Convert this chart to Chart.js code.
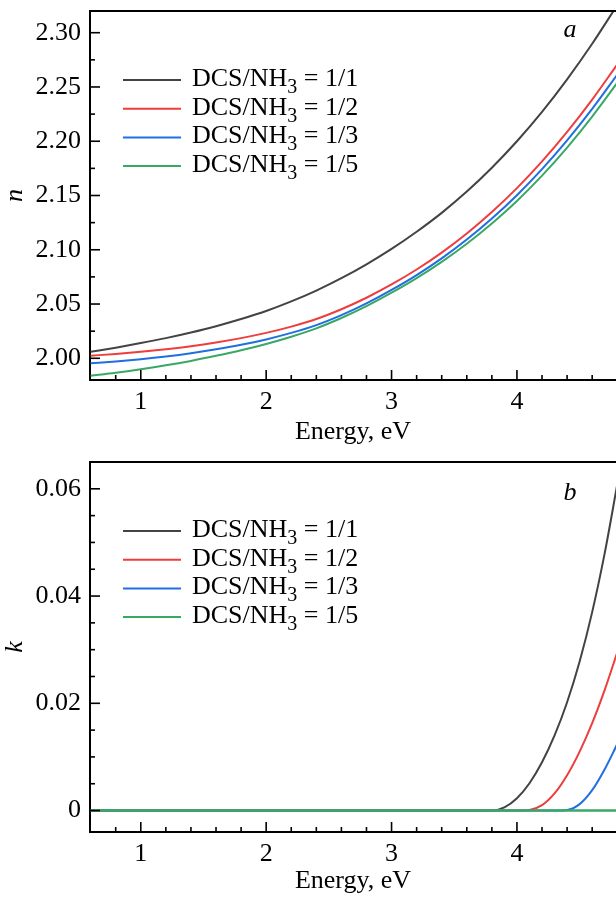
<!DOCTYPE html>
<html>
<head>
<meta charset="utf-8">
<script src="https://cdn.jsdelivr.net/npm/chart.js@4.4.1/dist/chart.umd.min.js"></script>
<style>
  body { margin: 0; background: #fff; }
  canvas { position: absolute; left: 0; }
</style>
</head>
<body>
<canvas id="nChart" width="616" height="448" style="top:0"></canvas>
<canvas id="kChart" width="616" height="449" style="top:448px"></canvas>
<script>
// series labels and colours
var ratios = ['1/1', '1/2', '1/3', '1/5'];
var colors = ['#434343', '#ef3d3d', '#1f6fe0', '#3aa865'];

// panel a: refractive index n vs energy (eV)
var energyN = [0.6, 0.8, 1.0, 1.2, 1.4, 1.6, 1.8, 2.0, 2.2, 2.4, 2.6, 2.8, 3.0, 3.2, 3.4, 3.6, 3.8, 4.0, 4.2, 4.4, 4.6, 4.8];
var n11 = [2.0060, 2.0098, 2.0140, 2.0186, 2.0238, 2.0296, 2.0362, 2.0436, 2.0524, 2.0624, 2.0738,
           2.0866, 2.1008, 2.1166, 2.1340, 2.1536, 2.1756, 2.2000, 2.2270, 2.2570, 2.2898, 2.3254];
var n12 = [2.0024, 2.0040, 2.0060, 2.0084, 2.0112, 2.0146, 2.0186, 2.0234, 2.0292, 2.0362, 2.0452,
           2.0558, 2.0680, 2.0818, 2.0974, 2.1150, 2.1348, 2.1568, 2.1814, 2.2086, 2.2384, 2.2708];
var n13 = [1.9954, 1.9971, 1.9992, 2.0017, 2.0047, 2.0083, 2.0124, 2.0174, 2.0234, 2.0306, 2.0398,
           2.0506, 2.0630, 2.0767, 2.0921, 2.1094, 2.1288, 2.1503, 2.1743, 2.2008, 2.2298, 2.2613];
var n15 = [1.9840, 1.9867, 1.9899, 1.9935, 1.9976, 2.0023, 2.0074, 2.0132, 2.0199, 2.0276, 2.0371,
           2.0480, 2.0604, 2.0739, 2.0889, 2.1056, 2.1243, 2.1450, 2.1683, 2.1942, 2.2227, 2.2538];

// panel b: extinction coefficient k vs energy (eV)
var energyK = [0.6, 1.0, 2.0, 3.0, 3.5, 3.7, 3.8, 3.9, 4.0, 4.1, 4.2, 4.3, 4.4, 4.5, 4.6, 4.7, 4.8];
var k11 = [0, 0, 0, 0, 0, 0, 0, 0.0006, 0.0023, 0.0051, 0.0090, 0.0140, 0.0202, 0.0278, 0.0370, 0.0480, 0.0608];
var k12 = [0, 0, 0, 0, 0, 0, 0, 0, 0, 0.0001, 0.0010, 0.0032, 0.0066, 0.0110, 0.0163, 0.0225, 0.0295];
var k13 = [0, 0, 0, 0, 0, 0, 0, 0, 0, 0, 0, 0, 0.0001, 0.0012, 0.0038, 0.0077, 0.0124];
var k15 = [0, 0, 0, 0, 0, 0, 0, 0, 0, 0, 0, 0, 0, 0, 0, 0, 0];

// tick labels
var xTicks = [1, 2, 3, 4];
var nTicks = [2.00, 2.05, 2.10, 2.15, 2.20, 2.25, 2.30];
var kTicks = [0, 0.02, 0.04, 0.06];

var FONT = '"Liberation Serif", "Times New Roman", serif';

function pts(xs, ys) {
  return xs.map(function (x, i) { return { x: x, y: ys[i] }; });
}

function makeSets(xs, series, widths) {
  return series.map(function (ys, i) {
    return {
      label: 'DCS/NH\u2083 = ' + ratios[i],
      data: pts(xs, ys),
      borderColor: colors[i],
      borderWidth: widths[i],
      pointRadius: 0,
      cubicInterpolationMode: 'monotone',
      order: 4 - i
    };
  });
}

function drawTicks(c, scale, a, step, horizontal) {
  var majors = scale.ticks.map(function (t) { return t.value; });
  var i0 = Math.ceil(scale.min / step - 1e-6), i1 = Math.floor(scale.max / step + 1e-6);
  for (var i = i0; i <= i1; i++) {
    var v = i * step;
    var major = majors.some(function (m) { return Math.abs(m - v) < step / 10; });
    var len = major ? 10 : 5;
    var p = scale.getPixelForValue(v);
    if (horizontal) {
      if (p <= a.left + 1 || p >= a.right - 1) continue;
      c.beginPath(); c.moveTo(p, a.bottom); c.lineTo(p, a.bottom - len); c.stroke();
    } else {
      if (p <= a.top + 1 || p >= a.bottom - 1) continue;
      c.beginPath(); c.moveTo(a.left, p); c.lineTo(a.left + len, p); c.stroke();
    }
  }
}

// frame on top, inward ticks, legend with subscript, panel letter
var decor = {
  id: 'decor',
  afterDatasetsDraw: function (chart, args, o) {
    var c = chart.ctx, a = chart.chartArea;
    c.save();
    chart.data.datasets.forEach(function (ds, i) {
      var y = a.top + o.legendTop + i * 28.7;
      c.strokeStyle = ds.borderColor;
      c.lineWidth = 2;
      c.beginPath(); c.moveTo(a.left + 33, y); c.lineTo(a.left + 91, y); c.stroke();
      var parts = ds.label.split('\u2083');
      var x = a.left + 102;
      c.fillStyle = '#000';
      c.textAlign = 'left';
      c.textBaseline = 'alphabetic';
      c.font = '26px ' + FONT;
      c.fillText(parts[0], x, y + 6);
      x += c.measureText(parts[0]).width;
      c.font = '20px ' + FONT;
      c.fillText('3', x, y + 13);
      x += c.measureText('3').width;
      c.font = '26px ' + FONT;
      c.fillText(parts[1], x, y + 6);
    });
    c.font = 'italic 26px ' + FONT;
    c.textAlign = 'center';
    c.fillText(o.letter, a.right - 46, a.top + o.letterDy);
    c.restore();
  },
  afterDraw: function (chart, args, o) {
    var c = chart.ctx, a = chart.chartArea;
    c.save();
    c.strokeStyle = '#000';
    c.lineWidth = 2;
    c.beginPath(); c.moveTo(a.left - 1, a.top); c.lineTo(a.right, a.top); c.stroke();
    c.lineWidth = 1.6;
    drawTicks(c, chart.scales.x, a, 0.2, true);
    drawTicks(c, chart.scales.y, a, o.yMinor, false);
    c.restore();
  }
};

function makeOptions(cfg) {
  return {
    responsive: false,
    animation: false,
    layout: { padding: { top: cfg.top, left: 0, right: 0, bottom: 0 } },
    plugins: {
      legend: { display: false },
      tooltip: { enabled: false },
      decor: { letter: cfg.letter, letterDy: cfg.letterDy, legendTop: 69, yMinor: cfg.yMinor }
    },
    scales: {
      x: {
        type: 'linear', min: 0.595, max: 4.79,
        afterBuildTicks: function (s) { s.ticks = xTicks.map(function (v) { return { value: v }; }); },
        afterFit: function (s) { s.height = cfg.xHeight; s.paddingLeft = 0; s.paddingRight = 0; },
        grid: { display: false, drawTicks: false },
        border: { display: true, color: '#000', width: 2 },
        ticks: { color: '#000', padding: 7, autoSkip: false, maxRotation: 0, font: { family: FONT, size: 26 } },
        title: { display: true, text: 'Energy, eV', color: '#000', padding: { top: 0, bottom: 0 }, font: { family: FONT, size: 26 } }
      },
      y: {
        type: 'linear', min: cfg.yMin, max: cfg.yMax,
        afterBuildTicks: function (s) { s.ticks = cfg.yTicks.map(function (v) { return { value: v }; }); },
        afterFit: function (s) { s.width = 90; s.paddingTop = 0; s.paddingBottom = 0; },
        grid: { display: false, drawTicks: false },
        border: { display: true, color: '#000', width: 2 },
        ticks: { color: '#000', padding: 9, autoSkip: false, font: { family: FONT, size: 26 }, callback: cfg.fmt },
        title: { display: true, text: cfg.yTitle, color: '#000', padding: { top: 0, bottom: 0 }, font: { family: FONT, size: 26, style: 'italic' } }
      }
    }
  };
}

new Chart(document.getElementById('nChart').getContext('2d'), {
  type: 'line',
  data: { datasets: makeSets(energyN, [n11, n12, n13, n15], [2, 2, 2, 2]) },
  options: makeOptions({
    top: 11, xHeight: 68, yMin: 1.98, yMax: 2.32, yTicks: nTicks, yMinor: 0.025,
    yTitle: 'n', letter: 'a', letterDy: 26,
    fmt: function (v) { return v.toFixed(2); }
  }),
  plugins: [decor]
});

new Chart(document.getElementById('kChart').getContext('2d'), {
  type: 'line',
  data: { datasets: makeSets(energyK, [k11, k12, k13, k15], [2, 2, 2, 2.4]) },
  options: makeOptions({
    top: 14, xHeight: 65, yMin: -0.004, yMax: 0.065, yTicks: kTicks, yMinor: 0.005,
    yTitle: 'k', letter: 'b', letterDy: 38,
    fmt: function (v) { return v === 0 ? '0' : v.toFixed(2); }
  }),
  plugins: [decor]
});
</script>
</body>
</html>
